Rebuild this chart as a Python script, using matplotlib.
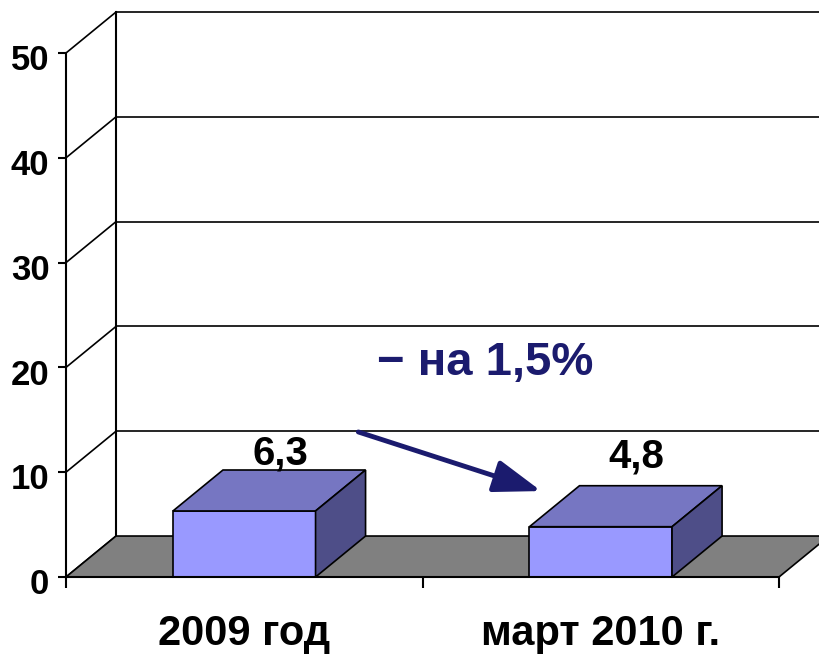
import matplotlib.pyplot as plt
import matplotlib.transforms as mtransforms
from matplotlib.patches import Polygon, Rectangle

# data
categories = ['2009 год', 'март 2010 г.']
values = [6.3, 4.8]
value_labels = ['6,3', '4,8']
y_ticks = [0, 10, 20, 30, 40, 50]
note = '− на 1,5%'

# look
FONT = ['Liberation Sans', 'DejaVu Sans']
FRONT = '#9999FF'
TOP = '#7676C2'
SIDE = '#4E4E88'
FLOOR = '#808080'
NAVY = '#1B1B6E'

# 3d depth offset (category units, value units)
DX = 0.1403
DY = 3.91
BAR_W = 0.4
XMAX = 2.0
YMAX = 50

fig = plt.figure(figsize=(8.19, 6.55), dpi=100)
ax = fig.add_axes([66 / 819, 78 / 655, 713 / 819, 524 / 655])
ax.set_xlim(0, XMAX)
ax.set_ylim(0, YMAX)
for s in ['top', 'right']:
    ax.spines[s].set_visible(False)
ax.spines['left'].set_linewidth(1.5)
ax.spines['bottom'].set_linewidth(1.5)
ax.spines['left'].set_zorder(6)
ax.spines['bottom'].set_zorder(6)

ax.set_yticks(y_ticks)
ax.set_yticklabels([str(t) for t in y_ticks], fontsize=25, fontweight='bold', family=FONT)
ax.tick_params(axis='y', length=6, width=1.5, pad=6)
# labels sit a little below their ticks
offset = mtransforms.ScaledTranslation(0, -3 / 72, fig.dpi_scale_trans)
for lbl in ax.get_yticklabels():
    lbl.set_transform(lbl.get_transform() + offset)
ax.set_xticks([0, 1, 2])
ax.set_xticklabels([])
ax.tick_params(axis='x', length=8, width=1.5)

x_right = (819 - 66) / 356.5  # right edge of picture in category units

# floor
ax.add_patch(Polygon([(0, 0), (XMAX, 0), (XMAX + DX, DY), (DX, DY)],
                     closed=True, facecolor=FLOOR, edgecolor='black', lw=1.2,
                     clip_on=False, zorder=2))

# walls and gridlines
ax.plot([DX, DX], [DY, YMAX + DY], color='black', lw=1.5, clip_on=False, zorder=1)
for t in y_ticks:
    ax.plot([0, DX], [t, t + DY], color='black', lw=1.2, clip_on=False, zorder=1)
    if t > 0:
        ax.plot([DX, x_right], [t + DY, t + DY], color='black', lw=1.2, clip_on=False, zorder=1)

# bars
label_dy = [1.6, 2.8]
for i, v in enumerate(values):
    c = i + 0.5
    x0, x1 = c - BAR_W / 2, c + BAR_W / 2
    ax.add_patch(Rectangle((x0, 0), BAR_W, v, facecolor=FRONT, edgecolor='black', lw=1.2, zorder=4))
    ax.add_patch(Polygon([(x0, v), (x1, v), (x1 + DX, v + DY), (x0 + DX, v + DY)],
                         closed=True, facecolor=TOP, edgecolor='black', lw=1.2, zorder=4))
    ax.add_patch(Polygon([(x1, 0), (x1 + DX, DY), (x1 + DX, v + DY), (x1, v)],
                         closed=True, facecolor=SIDE, edgecolor='black', lw=1.2, zorder=4))
    ax.text(c + DX / 2 + 0.03, v + DY + label_dy[i], value_labels[i], ha='center', va='center',
            fontsize=29, fontweight='bold', family=FONT, zorder=7)
    ax.text(c, -5.4, categories[i], ha='center', va='center',
            fontsize=30, fontweight='bold', family=FONT, clip_on=False)

# change note with arrow
ax.text(1.175, 20.4, note, ha='center', va='center', fontsize=34, fontweight='bold',
        color=NAVY, family=FONT, zorder=7)
ax.annotate('', xy=(1.333, 8.2), xytext=(0.82, 13.84),
            arrowprops=dict(arrowstyle='-|>,head_length=1.45,head_width=0.5',
                            mutation_scale=20, lw=3.5, color=NAVY,
                            shrinkA=0, shrinkB=0),
            zorder=8)

fig.savefig('out.png', dpi=100)
